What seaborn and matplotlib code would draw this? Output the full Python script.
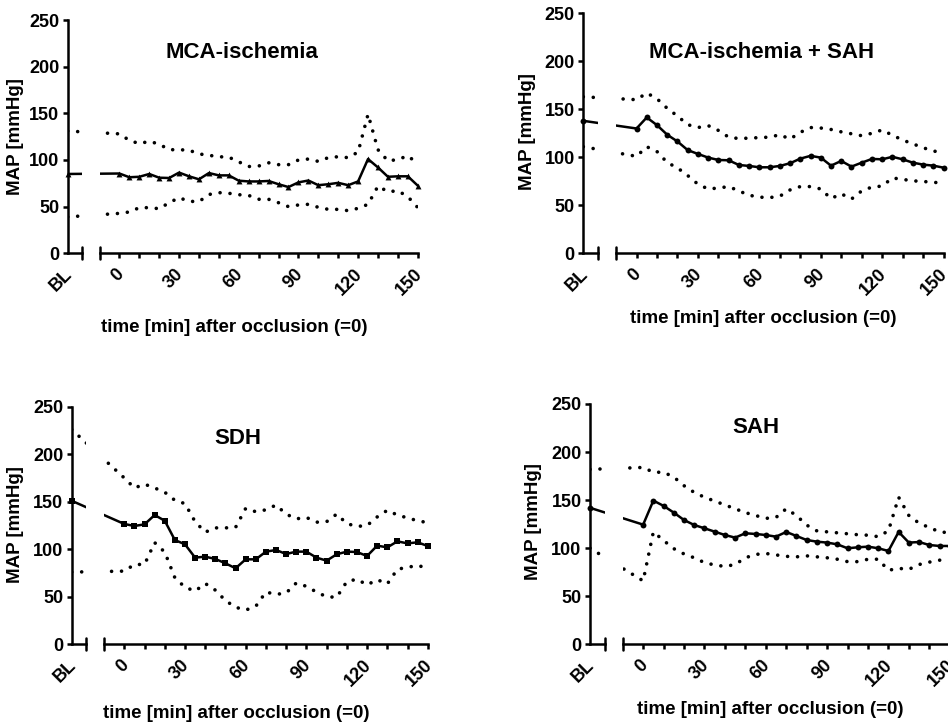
import matplotlib
matplotlib.use("Agg")
import matplotlib.pyplot as plt
import matplotlib.transforms as mtrans
import seaborn as sns

# time points (min after occlusion); BL is drawn left of the axis break
TIMES = list(range(0, 151, 5))
BL_POS = -26
BL_END = -18.7
X_MIN, X_MAX = -10, 150

# MCA-ischemia
mca_bl = [85, 131, 39]  # mean, upper, lower
mca_mean = [85.5, 81.5, 82, 85, 81, 80.7, 86.5, 82.5, 79.3, 86, 83.5, 83.5, 77.8, 77, 77, 77.5,
            74, 71, 76, 78, 73, 74, 75.5, 73, 77, 101, 92, 82, 82.5, 82.5, 72.5]
mca_upper = [128, 121, 117.5, 120, 117, 111, 111, 110.5, 106.5, 105, 103.5, 103, 98, 93, 93.5, 97,
             95, 95, 100, 101, 98.5, 102.5, 103.5, 102.5, 108.5, 149, 111, 99, 100.5, 104.5, 96]
mca_lower = [42.8, 44.3, 48.9, 48.9, 47.8, 54.2, 59.6, 55.7, 55.4, 63, 65, 64.3, 62.8, 62, 57.9, 57.9,
             54.2, 50, 51.8, 52.5, 49.3, 47.1, 47.1, 45.7, 48.2, 52.5, 72, 66, 67, 60.7, 49]

# MCA-ischemia + SAH
msah_bl = [138, 163, 111]
msah_mean = [130, 141.5, 133.5, 123.5, 116.5, 107.5, 103.5, 99.7, 97.2, 96.9, 92, 91, 89.6, 89.6, 91, 93.8,
             98.6, 101.5, 99.7, 91.3, 96.2, 90.3, 94.4, 98.3, 97.9, 100.5, 97.9, 94.4, 92.4, 91.3, 89.2]
msah_upper = [160, 167, 161, 151, 143, 134, 131, 133, 128, 121, 119.5, 120, 120.5, 121, 123.5, 119,
              126, 131, 130.5, 129, 126.5, 124.5, 122.5, 125, 128.5, 123, 118, 114, 110, 106.5, 105]
msah_lower = [101, 111, 106, 94.5, 89, 81, 72, 67, 68, 69.5, 65, 60.5, 58.5, 58, 59.5, 66,
              69.5, 69.5, 67, 57, 62, 56.5, 65, 69, 70, 78.5, 77, 75.5, 74.8, 74, 73]

# SDH
sdh_bl = [151, 226, 76]
sdh_mean = [126.6, 124.5, 126.2, 136, 130, 109.7, 105.2, 91.2, 92.2, 89.8, 85.2, 80, 89.4, 89.4, 97.5, 99.2,
            95, 97.5, 97.5, 91.2, 88, 94.7, 97.5, 97.1, 92.9, 103.8, 102, 108.3, 106.2, 107.3, 103.4]
sdh_upper = [175, 164.5, 168.5, 164.5, 160, 151.5, 148, 129, 118, 122.5, 122.5, 123, 143, 139.5, 141.5, 146.5,
             137, 132, 133.5, 128.5, 129, 137, 127, 124, 125, 134, 141, 136, 133, 130, 128]
sdh_lower = [77, 84, 84, 107, 97, 70, 60, 56, 64, 57, 46, 39, 36, 40, 55, 52.5,
             54, 64.5, 61, 55, 50, 49.5, 66, 68.5, 62.5, 68, 63.5, 79, 81, 83, 80]

# SAH
sah_bl = [142, 182, 100]
sah_mean = [124.5, 149.5, 144, 137, 129.3, 124.1, 120.7, 117.2, 113.7, 111, 115.5, 114.8, 113.7, 112, 116.9, 112.7,
            108.5, 106.8, 105.8, 104, 99.9, 100.9, 101.6, 99.9, 97.1, 116.9, 105.8, 106.4, 103.3, 102.3, 102.3]
sah_upper = [184, 179, 179, 174, 165, 158, 153, 149, 145, 141, 137, 134, 131, 132, 141, 134,
             124, 118, 117, 116, 115, 114, 113.5, 112, 118, 153, 134, 126, 121.5, 117, 116]
sah_lower = [66, 117, 108, 99.5, 94, 90, 85, 82.5, 81, 83, 90, 93.5, 94.5, 93, 91.5, 91,
             92, 91, 90, 88.5, 86, 86, 88.5, 88.5, 77, 79, 78, 83, 85.5, 87.5, 88.5]

W, H = 948, 727
DOTS = (0, (0.01, 2.75))


def draw_panel(fig, title, bl, mean, upper, lower, marker, lay, txt):
    # lay: y-axis x px, px per minute, top px, bottom px
    yax, scale, top, bot = lay
    bottom = 1 - bot / H
    height = (bot - top) / H
    ax_bl = fig.add_axes([yax / W, bottom, (BL_END - BL_POS) * scale / W, height])
    ax_main = fig.add_axes([(yax + (X_MIN - BL_POS) * scale) / W, bottom,
                            (X_MAX - X_MIN) * scale / W, height])
    x = [BL_POS] + TIMES
    for ax in (ax_bl, ax_main):
        sns.lineplot(x=x, y=[bl[0]] + mean, color="black", linewidth=1.8, ax=ax)
        sns.lineplot(x=x, y=[bl[1]] + upper, color="black", linewidth=2.6,
                     linestyle=DOTS, dash_capstyle="round", ax=ax)
        sns.lineplot(x=x, y=[bl[2]] + lower, color="black", linewidth=2.6,
                     linestyle=DOTS, dash_capstyle="round", ax=ax)
        ax.set_ylim(0, 250)
        ax.set_xlabel("")
        ax.set_ylabel("")
        for s in ax.spines.values():
            s.set_linewidth(1.8)
            s.set_color("black")
        ax.spines["top"].set_visible(False)
        ax.spines["right"].set_visible(False)
        ax.tick_params(width=1.8, length=3.6, colors="black", labelsize=13)
        ax.patch.set_alpha(0)
    sns.scatterplot(x=[BL_POS], y=[bl[0]], marker=marker, s=18, color="black",
                    linewidth=0, clip_on=False, ax=ax_bl, legend=False)
    sns.scatterplot(x=TIMES, y=mean, marker=marker, s=18, color="black",
                    linewidth=0, clip_on=False, ax=ax_main, legend=False)

    ax_bl.set_xlim(BL_POS, BL_END)
    ax_bl.set_yticks(range(0, 251, 50))
    ax_bl.tick_params(axis="y", pad=2.5)
    ax_bl.set_xticks([BL_POS], ["BL"], rotation=45, ha="right", rotation_mode="anchor")
    ax_bl.tick_params(axis="x", length=0, pad=9)
    ax_bl.axvline(BL_END, ymin=-0.025, ymax=0.025, clip_on=False, color="black", lw=1.8)

    ax_main.set_xlim(X_MIN, X_MAX)
    ax_main.spines["left"].set_visible(False)
    ax_main.set_yticks([])
    ax_main.set_xticks(range(0, 151, 30), [str(t) for t in range(0, 151, 30)],
                       rotation=45, ha="right", rotation_mode="anchor")
    ax_main.set_xticks([t for t in range(10, 151, 10) if t % 30], minor=True)
    ax_main.tick_params(axis="x", which="both", width=1.8, length=3.6, pad=5)
    ax_main.axvline(X_MIN, ymin=-0.025, ymax=0.025, clip_on=False, color="black", lw=1.8)

    # nudge rotated labels a little left so they sit under their ticks
    shift = mtrans.ScaledTranslation(-3 / 72, 0, fig.dpi_scale_trans)
    for lab in ax_main.get_xticklabels() + ax_bl.get_xticklabels():
        lab.set_transform(lab.get_transform() + shift)

    (tx, ty), (xx, xy), (yx, yy) = txt
    fig.text(tx / W, 1 - ty / H, title, ha="center", va="center", fontsize=16)
    fig.text(xx / W, 1 - xy / H, "time [min] after occlusion (=0)", ha="center", va="center",
             fontsize=13.5)
    fig.text(yx / W, 1 - yy / H, "MAP [mmHg]", ha="center", va="center", rotation=90,
             fontsize=13.5)


def main():
    sns.set_theme(style="ticks")
    plt.rcParams["font.family"] = ["Liberation Sans", "DejaVu Sans"]
    plt.rcParams["font.weight"] = "bold"
    plt.rcParams["text.color"] = "black"
    plt.rcParams["xtick.color"] = "black"
    plt.rcParams["ytick.color"] = "black"

    fig = plt.figure(figsize=(W / 100, H / 100), dpi=100)
    fig.patch.set_facecolor("white")

    draw_panel(fig, "MCA-ischemia", mca_bl, mca_mean, mca_upper, mca_lower, "^",
               (67.7, 1.989, 20, 253.3), ((242, 52), (234, 328), (16, 137)))
    draw_panel(fig, "MCA-ischemia + SAH", msah_bl, msah_mean, msah_upper, msah_lower, "o",
               (583.3, 2.047, 13.3, 253.3), ((762, 53), (763, 318), (528, 132)))
    draw_panel(fig, "SDH", sdh_bl, sdh_mean, sdh_upper, sdh_lower, "s",
               (71.7, 2.023, 406.7, 644.3), ((238, 439), (236, 713), (16, 525)))
    draw_panel(fig, "SAH", sah_bl, sah_mean, sah_upper, sah_lower, "o",
               (590, 2.044, 404, 644.3), ((756, 428), (770, 710), (534, 522)))

    fig.savefig("out.png", dpi=100)


if __name__ == "__main__":
    main()
